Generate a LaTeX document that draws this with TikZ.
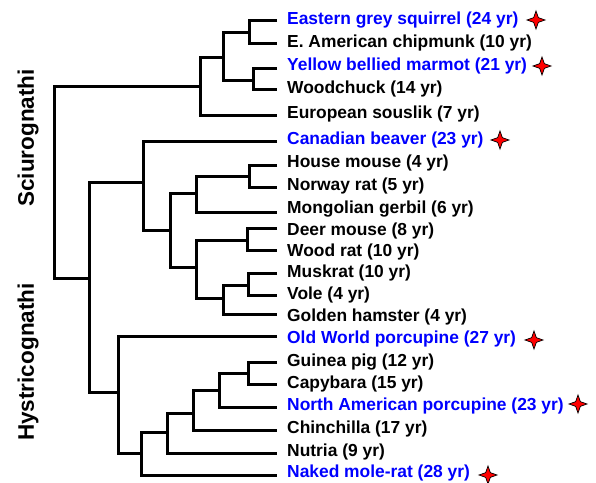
\documentclass[tikz,border=0pt]{standalone}
\usepackage{fontspec}
\setmainfont{Liberation Sans}
\usetikzlibrary{shapes.geometric}
\definecolor{bluelab}{RGB}{0,0,255}
\begin{document}
\begin{tikzpicture}[x=1pt,y=-1pt,
  branch/.style={line width=3pt,line join=miter},
  leaf/.style={anchor=west,inner sep=0pt,font=\fontsize{17.4}{20}\selectfont\bfseries},
  longlived/.style={leaf,text=bluelab},
  clade/.style={rotate=90,inner sep=0pt,font=\fontsize{22.5}{26}\selectfont\bfseries},
  sparkle/.style={star,star points=4,star point ratio=2.7,fill=red,draw=black,line width=0.7pt,minimum size=18pt,inner sep=0pt}]
\useasboundingbox (0,0) rectangle (596,482);
% leaf line ends
\foreach \n/\y in {1/20.5,2/43,3/68,4/89,5/115,6/141,7/165,8/187,9/212,10/228,11/250,12/273,13/295,14/314,15/336,16/362,17/384,18/407,19/430,20/453,21/475}
  \coordinate (l\n) at (277,\y);
% internal nodes
\coordinate (R) at (54,182);
\coordinate (S) at (200,86);
\coordinate (Sq) at (223,57);
\coordinate (A1) at (249,32);
\coordinate (A2) at (253,80);
\coordinate (Rest) at (89,278);
\coordinate (Myo) at (143,182);
\coordinate (B) at (170,230);
\coordinate (A) at (196,193);
\coordinate (HN) at (249,176);
\coordinate (C) at (196,267);
\coordinate (DW) at (247,240);
\coordinate (D) at (223,298);
\coordinate (MV) at (248,285);
\coordinate (Hys) at (118,392);
\coordinate (H2) at (141,453);
\coordinate (H3) at (167,432);
\coordinate (H4) at (193,413);
\coordinate (H5) at (219,390);
\coordinate (H6) at (248,373);
% branches
\draw[branch] (S) -| (R) |- (Rest);
\draw[branch] (Sq) -| (S) |- (l5);
\draw[branch] (A1) -| (Sq) |- (A2);
\draw[branch] (l1) -| (A1) |- (l2);
\draw[branch] (l3) -| (A2) |- (l4);
\draw[branch] (Myo) -| (Rest) |- (Hys);
\draw[branch] (l6) -| (Myo) |- (B);
\draw[branch] (A) -| (B) |- (C);
\draw[branch] (HN) -| (A) |- (l9);
\draw[branch] (l7) -| (HN) |- (l8);
\draw[branch] (DW) -| (C) |- (D);
\draw[branch] (l10) -| (DW) |- (l11);
\draw[branch] (MV) -| (D) |- (l14);
\draw[branch] (l12) -| (MV) |- (l13);
\draw[branch] (l15) -| (Hys) |- (H2);
\draw[branch] (H3) -| (H2) |- (l21);
\draw[branch] (H4) -| (H3) |- (l20);
\draw[branch] (H5) -| (H4) |- (l19);
\draw[branch] (H6) -| (H5) |- (l18);
\draw[branch] (l16) -| (H6) |- (l17);
% labels
\node[longlived] (t1) at (287,20) {Eastern grey squirrel (24 yr)};
\node[leaf] (t2) at (287,43) {E. American chipmunk (10 yr)};
\node[longlived] (t3) at (287,65.5) {Yellow bellied marmot (21 yr)};
\node[leaf] (t4) at (287,89) {Woodchuck (14 yr)};
\node[leaf] (t5) at (287,114) {European souslik (7 yr)};
\node[longlived] (t6) at (287,140) {Canadian beaver (23 yr)};
\node[leaf] (t7) at (287,163) {House mouse (4 yr)};
\node[leaf] (t8) at (287,186) {Norway rat (5 yr)};
\node[leaf] (t9) at (287,209) {Mongolian gerbil (6 yr)};
\node[leaf] (t10) at (287,231) {Deer mouse (8 yr)};
\node[leaf] (t11) at (287,252) {Wood rat (10 yr)};
\node[leaf] (t12) at (287,273) {Muskrat (10 yr)};
\node[leaf] (t13) at (287,295) {Vole (4 yr)};
\node[leaf] (t14) at (287,317) {Golden hamster (4 yr)};
\node[longlived] (t15) at (287,339) {Old World porcupine (27 yr)};
\node[leaf] (t16) at (287,362) {Guinea pig (12 yr)};
\node[leaf] (t17) at (287,384) {Capybara (15 yr)};
\node[longlived] (t18) at (287,406) {North American porcupine (23 yr)};
\node[leaf] (t19) at (287,429) {Chinchilla (17 yr)};
\node[leaf] (t20) at (287,452) {Nutria (9 yr)};
\node[longlived] (t21) at (287,473) {Naked mole-rat (28 yr)};
% stars
\node[sparkle] (s1) at (536,20) {};
\node[sparkle] (s3) at (542,66) {};
\node[sparkle] (s6) at (500,140) {};
\node[sparkle] (s15) at (534,340) {};
\node[sparkle] (s18) at (578,404) {};
\node[sparkle] (s21) at (488,475) {};
% clade labels
\node[clade] (sciu) at (28,138) {Sciurognathi};
\node[clade] (hyst) at (28,362) {Hystricognathi};
\end{tikzpicture}
\end{document}
